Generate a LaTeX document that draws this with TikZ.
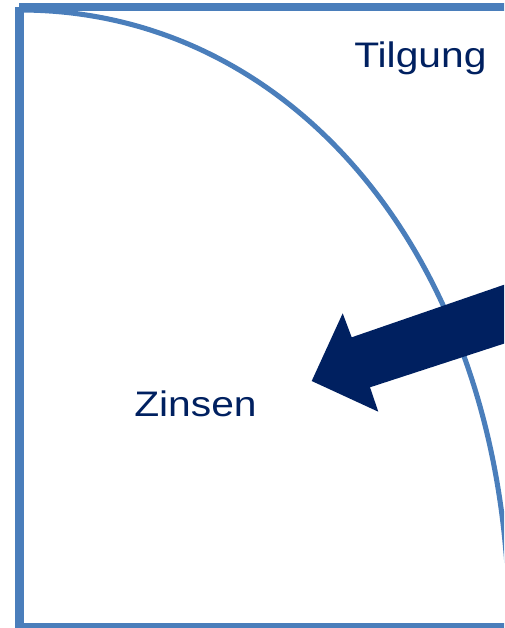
\documentclass[tikz,border=0pt]{standalone}
\usepackage{fontspec}
\usepackage{tikz}
\usetikzlibrary{positioning,calc}
\newfontfamily\labelfont[FakeStretch=1.15]{Liberation Sans}
\definecolor{frameblue}{HTML}{4A7EBB}
\definecolor{navy}{HTML}{002060}
\tikzset{
  frameline/.style={draw=frameblue,line width=6.4pt,line cap=butt,line join=miter},
  arcline/.style={draw=frameblue,line width=3.8pt},
  bigarrow/.style={fill=navy,draw=none},
  label/.style={anchor=base west,inner sep=0pt,text=navy,font=\labelfont\fontsize{26.6pt}{30pt}\selectfont},
}
\begin{document}
\begin{tikzpicture}[x=0.75pt,y=-0.75pt]
        \clip (0,0) rectangle (504,628);

        % outer frame (right side lies outside the picture)
        \draw [frameline] (19,7) -- (540,7) -- (540,627.5) -- (19.5,627.5) -- (19.5,7);

        % boundary between the two parts
        \coordinate (arcstart) at (20,10);
        \coordinate (arcend) at (509,626);
        \draw [arcline] (arcstart) .. controls (298,10) and (509,268) .. (arcend);

        \node (tilgung) [label] at (354,67) {Tilgung};
        \node (zinsen) [label] at (134,416.7) {Zinsen};

        % arrow from the right edge into the interest part
        \fill [bigarrow] (512,282) -- (351.7,337.3) -- (342.7,313.3) -- (311.7,381)
        -- (378.3,411.7) -- (370,387.3) -- (512,341) -- cycle;
      \end{tikzpicture}
\end{document}
